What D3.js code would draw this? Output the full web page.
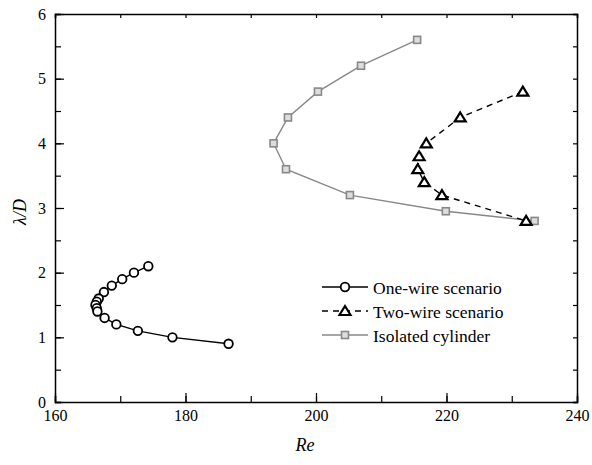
<!DOCTYPE html>
<html>
<head>
<meta charset="utf-8">
<script src="https://cdn.jsdelivr.net/npm/d3@7"></script>
<style>
  body { margin: 0; background: #fff; }
</style>
</head>
<body>
<svg id="chart" width="592" height="465"></svg>
<script>
// data
const oneWireRe     = [174.3, 172.1, 170.3, 168.7, 167.5, 166.7, 166.4, 166.2, 166.4, 166.5, 167.6, 169.4, 172.7, 178.0, 186.6];
const oneWireLambda = [2.1, 2.0, 1.9, 1.8, 1.7, 1.6, 1.55, 1.5, 1.45, 1.4, 1.3, 1.2, 1.1, 1.0, 0.9];
const twoWireRe     = [231.7, 222.1, 216.9, 215.8, 215.6, 216.6, 219.3, 232.2];
const twoWireLambda = [4.8, 4.4, 4.0, 3.8, 3.6, 3.4, 3.2, 2.8];
const isoRe         = [215.5, 206.9, 200.3, 195.7, 193.5, 195.4, 205.2, 219.9, 233.5];
const isoLambda     = [5.6, 5.2, 4.8, 4.4, 4.0, 3.6, 3.2, 2.95, 2.8];
const xTicks = [160, 180, 200, 220, 240];
const yTicks = [0, 1, 2, 3, 4, 5, 6];
const legendLabels = ["One-wire scenario", "Two-wire scenario", "Isolated cylinder"];

const FONT = "Liberation Serif, DejaVu Serif, serif";
const svg = d3.select("#chart");
const pLeft = 55, pRight = 577, pTop = 14, pBottom = 402;

const x = d3.scaleLinear().domain([160, 240]).range([pLeft, pRight]);
const y = d3.scaleLinear().domain([0, 6]).range([pBottom, pTop]);

const zip = (a, b) => a.map((v, i) => [v, b[i]]);
const series = [
  { name: legendLabels[0], pts: zip(oneWireRe, oneWireLambda), color: "#000", dash: null, marker: "circle" },
  { name: legendLabels[1], pts: zip(twoWireRe, twoWireLambda), color: "#000", dash: "6,5", marker: "triangle" },
  { name: legendLabels[2], pts: zip(isoRe, isoLambda), color: "#888", dash: null, marker: "square" }
];

// axes, ticks inward
const minorX = d3.range(160, 241, 10), minorY = d3.range(0, 6.01, 0.5);
const axisStyle = g => g.select(".domain").attr("stroke", "#000").attr("stroke-width", 1.5);
const labelStyle = g => g.selectAll("text").attr("font-size", 16).attr("fill", "#000").style("font-family", FONT);

svg.append("g").attr("transform", `translate(0,${pBottom})`)
  .call(d3.axisBottom(x).tickValues(minorX).tickSize(-6).tickFormat(""))
  .call(axisStyle);
svg.append("g").attr("transform", `translate(0,${pBottom})`)
  .call(d3.axisBottom(x).tickValues(xTicks).tickSize(-9).tickPadding(8).tickFormat(d3.format("d")))
  .call(g => g.select(".domain").remove())
  .call(labelStyle);
svg.append("g").attr("transform", `translate(0,${pTop})`)
  .call(d3.axisTop(x).tickValues(minorX).tickSize(-4).tickFormat(""))
  .call(axisStyle);

svg.append("g").attr("transform", `translate(${pLeft},0)`)
  .call(d3.axisLeft(y).tickValues(minorY).tickSize(-6).tickFormat(""))
  .call(axisStyle);
svg.append("g").attr("transform", `translate(${pLeft},0)`)
  .call(d3.axisLeft(y).tickValues(yTicks).tickSize(-9).tickPadding(9).tickFormat(d3.format("d")))
  .call(g => g.select(".domain").remove())
  .call(labelStyle);
svg.append("g").attr("transform", `translate(${pRight},0)`)
  .call(d3.axisRight(y).tickValues(minorY).tickSize(-4).tickFormat(""))
  .call(axisStyle);

svg.selectAll(".tick line").attr("stroke", "#000").attr("stroke-width", 1.2);

// axis titles
svg.append("text").attr("x", 305).attr("y", 451).style("font-family", FONT)
  .attr("text-anchor", "middle").attr("font-size", 18).attr("font-style", "italic").text("Re");
svg.append("text").attr("transform", `translate(26,212) rotate(-90)`).style("font-family", FONT)
  .attr("text-anchor", "middle").attr("font-size", 18).attr("font-style", "italic").text("λ/D");

function drawMarker(g, kind, color) {
  if (kind === "circle") {
    g.append("circle").attr("r", 4.3).attr("fill", "#fff").attr("stroke", color).attr("stroke-width", 1.8);
  } else if (kind === "triangle") {
    g.append("path").attr("d", "M0,-5L5.5,4L-5.5,4Z").attr("fill", "#fff")
      .attr("stroke", color).attr("stroke-width", 2.2).attr("stroke-linejoin", "miter");
  } else {
    g.append("rect").attr("x", -3.5).attr("y", -3.5).attr("width", 7).attr("height", 7)
      .attr("fill", "#ddd").attr("stroke", color).attr("stroke-width", 1.6);
  }
}

const line = d3.line().x(d => x(d[0])).y(d => y(d[1]));
const plot = svg.append("g");
// draw isolated first so others sit on top
[series[2], series[0], series[1]].forEach(s => {
  plot.append("path").datum(s.pts).attr("d", line).attr("fill", "none")
    .attr("stroke", s.color).attr("stroke-width", 1.4).attr("stroke-dasharray", s.dash);
  plot.selectAll(null).data(s.pts).enter().append("g")
    .attr("transform", d => `translate(${x(d[0])},${y(d[1])})`)
    .each(function() { drawMarker(d3.select(this), s.marker, s.color); });
});

// legend
const legend = svg.append("g").attr("transform", "translate(322,287)");
series.forEach((s, i) => {
  const g = legend.append("g").attr("transform", `translate(0,${i * 24})`);
  g.append("line").attr("x1", 0).attr("x2", 46).attr("y1", 0).attr("y2", 0)
    .attr("stroke", s.color).attr("stroke-width", 1.4).attr("stroke-dasharray", s.dash);
  drawMarker(g.append("g").attr("transform", "translate(23,0)"), s.marker, s.color);
  g.append("text").attr("x", 51).attr("y", 6.5).attr("font-size", 17.5).style("font-family", FONT).text(s.name);
});
</script>
</body>
</html>
